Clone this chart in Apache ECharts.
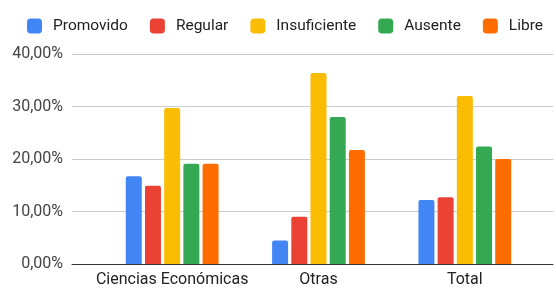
<!DOCTYPE html>
<html><head><meta charset="utf-8">
<script src="https://cdn.jsdelivr.net/npm/echarts@6/dist/echarts.min.js"></script>
<style>html,body{margin:0;padding:0;background:#fff}#c{width:556px;height:288px}</style>
</head><body><div id="c"></div>
<script>
const categories = ['Ciencias Económicas', 'Otras', 'Total'];
const seriesNames = ['Promovido', 'Regular', 'Insuficiente', 'Ausente', 'Libre'];
const promovido = [16.7, 4.5, 12.2];
const regular = [14.9, 9.0, 12.7];
const insuficiente = [29.7, 36.4, 32.0];
const ausente = [19.1, 28.0, 22.4];
const libre = [19.1, 21.7, 20.0];
const yTicks = [0, 10, 20, 30, 40];
const colors = ['#4285F4', '#EA4335', '#FBBC04', '#34A853', '#FF6D01'];
const values = [promovido, regular, insuficiente, ausente, libre];

const font = 'Roboto, Arial, sans-serif';
const chart = echarts.init(document.getElementById('c'), null, {renderer: 'canvas'});
const gTop = 54, gBottom = 24;
chart.setOption({
  animation: false,
  color: colors,
  legend: {
    left: 27, top: 18, padding: 0, itemWidth: 15, itemHeight: 15, itemGap: 22,
    icon: 'roundRect',
    textStyle: {fontFamily: font, fontSize: 15.5, color: '#222', padding: [0, 0, 0, 6]},
    data: seriesNames
  },
  grid: [
    {left: 72, right: 3, top: gTop, bottom: gBottom},
    {left: 99, right: 18, top: gTop, bottom: gBottom}
  ],
  xAxis: [
    {gridIndex: 0, type: 'value', min: 0, max: 1, show: true,
     axisLine: {show: true, lineStyle: {color: '#333', width: 1}},
     axisTick: {show: false}, axisLabel: {show: false}, splitLine: {show: false}},
    {gridIndex: 1, type: 'category', data: categories,
     axisLine: {show: false}, axisTick: {show: false},
     axisLabel: {interval: 0, fontFamily: font, fontSize: 16, color: '#222', margin: 8}}
  ],
  yAxis: [
    {gridIndex: 0, type: 'value', min: yTicks[0], max: yTicks[yTicks.length-1], interval: 10,
     axisLine: {show: false}, axisTick: {show: false},
     axisLabel: {fontFamily: font, fontSize: 16, color: '#444', margin: 9,
       formatter: v => v.toFixed(2).replace('.', ',') + '%'},
     splitLine: {lineStyle: {color: '#ccc', width: 1}}},
    {gridIndex: 1, type: 'value', min: yTicks[0], max: yTicks[yTicks.length-1], interval: 10, show: false}
  ],
  series: seriesNames.map((n, i) => ({
    name: n, type: 'bar', xAxisIndex: 1, yAxisIndex: 1,
    data: values[i], barWidth: 16, barGap: '20%',
    itemStyle: {color: colors[i], borderRadius: [2, 2, 0, 0]}
  }))
});
</script></body></html>
